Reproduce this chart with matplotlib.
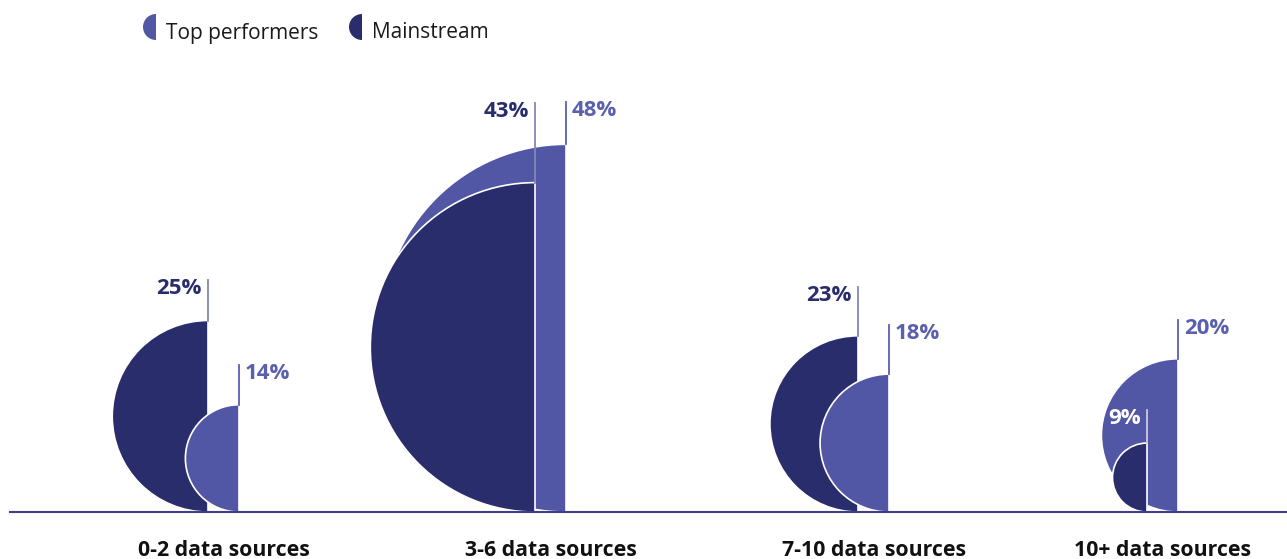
import matplotlib

matplotlib.use("Agg")
import matplotlib.pyplot as plt
from matplotlib.patches import Wedge

# data
CATEGORIES = ["0-2 data sources", "3-6 data sources", "7-10 data sources", "10+ data sources"]
MAINSTREAM = [25, 43, 23, 9]
TOP_PERFORMERS = [14, 48, 18, 20]

# layout (pixel units, baseline at y=0)
W, H = 1287, 559
BASE_PX = 512
CENTERS = [223.5, 550.5, 873.5, 1162.5]
HALF_GAP = 15.5
PX_PER_PCT = 3.83
M_STEM = [41, 80, 49, 33]
TP_STEM = [40, 42, 49, 39]

C_MAIN = "#2a2d6b"
C_TOP = "#5157a5"
C_TOP_TXT = "#5a5fae"
C_MAIN_STEM = "#8486b2"
FONT = ["Open Sans", "DejaVu Sans"]


def half_disc(ax, xf, r, color, z):
    ax.add_patch(Wedge((xf, r), r, 90, 270, facecolor=color, edgecolor="white", lw=1.2, zorder=z))


fig = plt.figure(figsize=(W / 100, H / 100), dpi=100)
ax = fig.add_axes([0, 0, 1, 1])
ax.set_xlim(0, W)
ax.set_ylim(BASE_PX - H, BASE_PX)
ax.axis("off")

for i, cat in enumerate(CATEGORIES):
    xm = CENTERS[i] - HALF_GAP
    xt = CENTERS[i] + HALF_GAP
    rm = MAINSTREAM[i] * PX_PER_PCT
    rt = TOP_PERFORMERS[i] * PX_PER_PCT
    # smaller shape goes on top
    zm, zt = (3, 2) if rm < rt else (2, 3)
    half_disc(ax, xm, rm, C_MAIN, zm)
    half_disc(ax, xt, rt, C_TOP, zt)

    ym = 2 * rm + M_STEM[i]
    yt = 2 * rt + TP_STEM[i]
    # label sits inside the other shape when that one is much bigger
    inside = ym < 2 * rt and xm - rt < xm - 40
    ax.plot([xm, xm], [2 * rm, ym], color="#c9cae0" if inside else C_MAIN_STEM, lw=1.3, zorder=4)
    ax.plot([xt, xt], [2 * rt, yt], color=C_TOP_TXT, lw=1.3, zorder=4)

    ax.text(xm - 6, ym + 2, f"{MAINSTREAM[i]}%", ha="right", va="top", fontsize=16,
            fontweight="bold", color="white" if inside else C_MAIN, family=FONT, zorder=5)
    ax.text(xt + 6, yt + 2, f"{TOP_PERFORMERS[i]}%", ha="left", va="top", fontsize=16,
            fontweight="bold", color=C_TOP_TXT, family=FONT, zorder=5)

    ax.text(CENTERS[i], -39, cat, ha="center", va="center", fontsize=15.3,
            fontweight="bold", color="#111111", family=FONT)

# baseline
ax.plot([10, W], [0, 0], color="#3b3f8c", lw=1.5, zorder=6)

# legend
for x0, col, lab in [(156, C_TOP, "Top performers"), (362, C_MAIN, "Mainstream")]:
    ax.add_patch(Wedge((x0, BASE_PX - 27), 13, 90, 270, facecolor=col, edgecolor="none"))
    ax.text(x0 + 10, BASE_PX - 33, lab, ha="left", va="center", fontsize=15,
            color="#1a1a1a", family=FONT)

fig.savefig("out.png", dpi=100)
